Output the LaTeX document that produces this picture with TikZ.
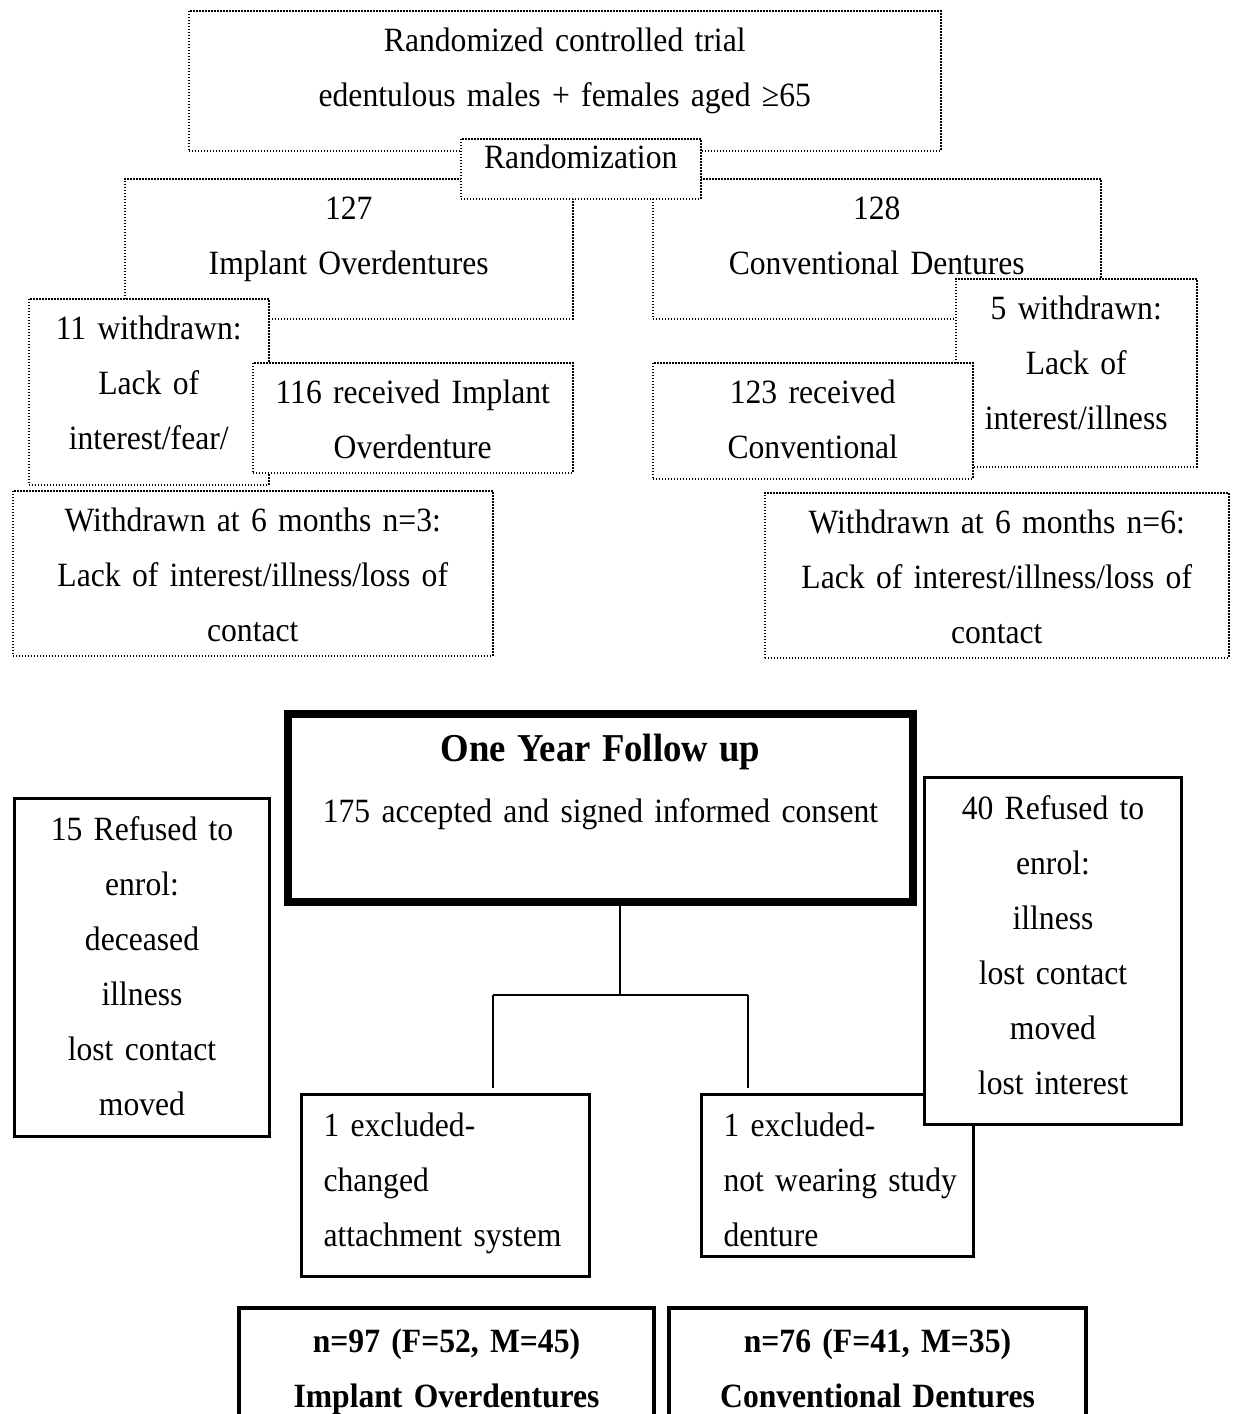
\documentclass[tikz,border=0pt]{standalone}
\usepackage{fontspec}
\setmainfont{Liberation Serif}[FakeStretch=0.93]
\begin{document}
\begin{tikzpicture}[x=1pt,y=-1pt,
    every node/.append style={font=\fontsize{34}{55}\selectfont},
    dotbox/.style={draw, line width=1.5pt, dash pattern=on 1.5pt off 1.5pt, fill=white,
        anchor=north west, inner sep=0pt, align=center, text height=41pt},
    solidbox/.style={draw, line width=3pt, fill=white,
        anchor=north west, inner sep=0pt, text height=42pt},
    link/.style={draw, line width=1.5pt}]
    \useasboundingbox (0,0) rectangle (1235,1414);
    \clip (0,0) rectangle (1235,1414);

    \node[dotbox, text width=752pt, text depth=99pt] (trial) at (188,10)
        {Randomized controlled trial\\ edentulous males + females aged ≥65};
    \node[dotbox, text width=448pt, text depth=99pt] (implant) at (124,178)
        {127\\ Implant Overdentures};
    \node[dotbox, text width=448pt, text depth=99pt] (conv) at (652,178)
        {128\\ Conventional Dentures};
    \node[dotbox, text width=240pt, text height=30pt, text depth=30pt] (rand) at (460,138)
        {Randomization};
    \node[dotbox, text width=240pt, text depth=145pt] (wdI) at (28,298)
        {11 withdrawn:\\ Lack of\\ interest/fear/};
    \node[dotbox, text width=320pt, text depth=69pt] (recI) at (252,362)
        {116 received Implant\\ Overdenture};
    \node[dotbox, text width=241pt, text depth=147pt] (wdC) at (955,278)
        {5 withdrawn:\\ Lack of\\ interest/illness};
    \node[dotbox, text width=320pt, text depth=75pt] (recC) at (652,362)
        {123 received\\ Conventional};
    \node[dotbox, text width=480pt, text depth=124pt] (sixI) at (12,490)
        {Withdrawn at 6 months n=3:\\ Lack of interest/illness/loss of\\ contact};
    \node[dotbox, text width=464pt, text depth=124pt] (sixC) at (764,492)
        {Withdrawn at 6 months n=6:\\ Lack of interest/illness/loss of\\ contact};

    \node[draw, line width=8pt, fill=white, anchor=north west, inner sep=0pt, align=center,
        text width=625pt, text height=47pt, text depth=141pt] (year) at (284,710)
        {{\fontsize{39.5}{45}\selectfont\bfseries One Year Follow up}\\[6pt]
         175 accepted and signed informed consent};
    \node[solidbox, align=center, text width=255pt, text depth=296pt] (refI) at (13,797)
        {15 Refused to\\ enrol:\\ deceased\\ illness\\ lost contact\\ moved};
    \node[solidbox, align=left, text width=288pt, text depth=140pt] (exA) at (300,1093)
        {\leftskip=22pt 1 excluded-\\ changed\\ attachment system\par};
    \node[solidbox, align=left, text width=272pt, text depth=120pt] (exB) at (700,1093)
        {\leftskip=22pt 1 excluded-\\ not wearing study\\ denture\par};
    \node[solidbox, align=center, text width=257pt, text depth=305pt] (refC) at (923,776)
        {40 Refused to\\ enrol:\\ illness\\ lost contact\\ moved\\ lost interest};

    \coordinate (fork) at (620,995);
    \coordinate (forkL) at (493,995);
    \coordinate (forkR) at (748,995);
    \draw[link] (fork |- year.south) -- (fork);
    \draw[link] (forkL) -- (forkR);
    \draw[link, shorten >=5pt] (forkL) -- (forkL |- exA.north);
    \draw[link, shorten >=5pt] (forkR) -- (forkR |- exB.north);

    \node[solidbox, line width=4pt, align=center, text height=44pt, text width=415pt,
        text depth=156pt, font=\fontsize{34}{55}\selectfont\bfseries] (finI) at (237,1306)
        {n=97 (F=52, M=45)\\ Implant Overdentures};
    \node[solidbox, line width=4pt, align=center, text height=44pt, text width=417pt,
        text depth=156pt, font=\fontsize{34}{55}\selectfont\bfseries] (finC) at (667,1306)
        {n=76 (F=41, M=35)\\ Conventional Dentures};
\end{tikzpicture}
\end{document}
